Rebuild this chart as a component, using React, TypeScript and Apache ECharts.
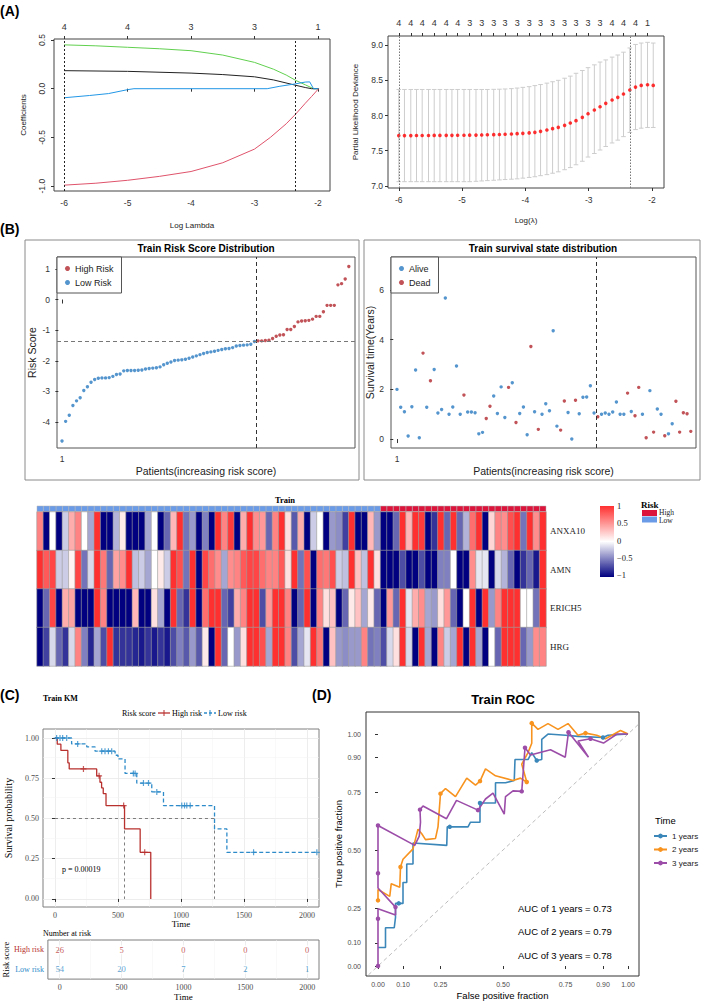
import React, { useEffect, useRef } from "react";
import * as echarts from "echarts";

const SANS = '"Liberation Sans", Arial, Helvetica, sans-serif';
const SERIF = '"Liberation Serif", "Times New Roman", Times, serif';

// ---------- (A) LASSO coefficient profiles ----------
const coefTicks = [-6, -5, -4, -3, -2];
const coefTopDf = ["4", "4", "3", "3", "1"];
const pathGreen = [[-6, 0.45], [-5.5, 0.44], [-5, 0.425], [-4.5, 0.41], [-4, 0.39], [-3.5, 0.345], [-3, 0.27], [-2.7, 0.2], [-2.5, 0.14], [-2.35, 0.085], [-2.2, 0.04], [-2.07, 0], [-1.99, 0]];
const pathBlack = [[-6, 0.185], [-5, 0.178], [-4, 0.16], [-3.5, 0.145], [-3, 0.122], [-2.7, 0.09], [-2.35, 0.035], [-2.2, 0.012], [-2.1, 0], [-1.99, 0]];
const pathBlue = [[-6, -0.093], [-5.6, -0.07], [-5.3, -0.05], [-5.0, -0.01], [-4.9, 0], [-2.8, 0], [-2.6, 0.025], [-2.35, 0.05], [-2.2, 0.068], [-2.13, 0.07], [-2.07, 0], [-1.99, 0]];
const pathRed = [[-6, -0.99], [-5.5, -0.97], [-5, -0.94], [-4.5, -0.9], [-4, -0.85], [-3.5, -0.76], [-3, -0.62], [-2.75, -0.5], [-2.5, -0.36], [-2.35, -0.26], [-2.2, -0.15], [-2.1, -0.08], [-1.99, 0]];
const lambdaMinLog = -6.0;
const lambda1seLog = -2.35;

// ---------- (A) cross-validated partial likelihood deviance ----------
const cvLogLambda = [-6.0, -5.91, -5.81, -5.72, -5.63, -5.53, -5.44, -5.35, -5.25, -5.16, -5.07, -4.97, -4.88, -4.78, -4.69, -4.6, -4.5, -4.41, -4.32, -4.22, -4.13, -4.04, -3.94, -3.85, -3.76, -3.66, -3.57, -3.48, -3.38, -3.29, -3.2, -3.1, -3.01, -2.91, -2.82, -2.73, -2.63, -2.54, -2.45, -2.35, -2.26, -2.17, -2.07, -1.98];
const cvMean = [7.715, 7.715, 7.715, 7.716, 7.716, 7.716, 7.717, 7.717, 7.718, 7.718, 7.719, 7.72, 7.721, 7.722, 7.724, 7.726, 7.728, 7.731, 7.734, 7.738, 7.742, 7.747, 7.753, 7.761, 7.775, 7.794, 7.813, 7.832, 7.86, 7.894, 7.927, 7.974, 8.026, 8.078, 8.125, 8.173, 8.22, 8.258, 8.305, 8.362, 8.404, 8.428, 8.437, 8.428];
const cvUpper = [8.37, 8.37, 8.37, 8.37, 8.37, 8.37, 8.37, 8.37, 8.37, 8.37, 8.37, 8.37, 8.37, 8.37, 8.37, 8.37, 8.372, 8.374, 8.377, 8.382, 8.39, 8.4, 8.41, 8.425, 8.44, 8.46, 8.48, 8.5, 8.53, 8.56, 8.6, 8.64, 8.68, 8.72, 8.76, 8.79, 8.83, 8.86, 8.9, 8.96, 9.01, 9.03, 9.04, 9.03];
const cvLower = [7.06, 7.06, 7.06, 7.06, 7.06, 7.06, 7.06, 7.06, 7.06, 7.06, 7.06, 7.06, 7.06, 7.065, 7.07, 7.075, 7.08, 7.085, 7.09, 7.095, 7.1, 7.11, 7.12, 7.13, 7.145, 7.16, 7.18, 7.2, 7.23, 7.26, 7.3, 7.35, 7.41, 7.46, 7.51, 7.56, 7.61, 7.65, 7.7, 7.76, 7.8, 7.82, 7.83, 7.83];
const cvTopDf = ["4", "4", "4", "4", "4", "4", "3", "3", "3", "3", "3", "3", "3", "3", "3", "3", "3", "3", "4", "4", "4", "1"];

// ---------- (B) risk score and survival state ----------
const nLow = 54;
const riskScore = [
  -4.62, -3.98, -3.78, -3.46, -3.31, -3.21, -2.97, -2.85, -2.7, -2.61, -2.57, -2.56, -2.56, -2.55, -2.51, -2.45, -2.43, -2.33,
  -2.32, -2.32, -2.32, -2.31, -2.3, -2.27, -2.25, -2.24, -2.23, -2.2, -2.13, -2.08, -2.04, -1.99, -1.98, -1.97, -1.95, -1.92,
  -1.88, -1.84, -1.8, -1.76, -1.73, -1.71, -1.69, -1.66, -1.63, -1.61, -1.6, -1.57, -1.52, -1.5, -1.49, -1.48, -1.46, -1.37,
  -1.35, -1.35, -1.34, -1.33, -1.27, -1.2, -1.16, -1.15, -0.98, -0.98, -0.88, -0.73, -0.7, -0.69, -0.68, -0.64, -0.55, -0.55,
  -0.4, -0.19, -0.19, -0.19, 0.48, 0.52, 0.67, 1.08,
];
const riskCutoff = -1.36;
const survYears = [
  2.0, 1.28, 1.1, 0.12, 1.3, 2.78, 0.05, 3.46, 1.28, 2.35, 2.8, 1.05, 1.19, 5.68, 1.0, 1.29, 2.94, 1.0, 1.77, 1.09, 1.09, 1.06,
  0.21, 0.27, 0.83, 1.32, 1.73, 1.03, 2.1, 0.87, 2.08, 2.27, 0.67, 1.03, 1.29, 0.17, 3.73, 1.1, 0.39, 1.0, 1.42, 1.14, 4.36,
  0.52, 0.36, 1.53, 1.07, 0.0, 1.56, 1.02, 1.68, 1.69, 2.15, 1.05,
  0.9, 1.0, 1.05, 1.0, 1.09, 1.49, 1.0, 1.0, 1.85, 1.11, 0.94, 2.08, 1.0, 0.05, 1.95, 0.28, 1.21, 1.0, 0.13, 0.21, 0.62, 1.52,
  0.28, 1.06, 1.02, 0.31,
];
const survStatus = [
  0, 0, 0, 0, 0, 0, 0, 1, 0, 1, 0, 0, 0, 0, 0, 0, 0, 0, 1, 0, 0, 0, 0, 0, 1, 1, 0, 0, 0, 0, 1, 0, 1, 0, 0, 0, 1, 0, 1, 0, 0, 0,
  0, 0, 1, 1, 0, 0, 1, 0, 0, 0, 0, 0,
  1, 0, 0, 0, 0, 0, 0, 0, 1, 0, 1, 1, 0, 1, 0, 1, 0, 0, 1, 0, 0, 1, 1, 1, 1, 1,
];

// ---------- expression heatmap (scaled) ----------
const genes = ["ANXA10", "AMN", "ERICH5", "HRG"];
const exprANXA10 = [
  0.6, -1, 0, -1, -0.2, 0.4, 0.6, 0, -0.35, 1, -1, -1, -0.3, 0.1, -1, -1, -1, -0.35, 0, -1, -0.6, 0.35, 1, -0.55, -0.4, -1, -0.5,
  -1, 1, 0.6, 0.95, -1, 0.4, 1, 0.55, 0.5, -0.6, 0.6, 1, 0.15, -0.65, 0.4, -1, -0.2, 0, -1, -0.4, -0.45, -0.75, 1, -1, -1, 0.35, -0.4,
  -1, -1, -0.6, 1, 0.35, 1, 0.95, -1, -0.8, 1, -0.6, 1, -0.6, -0.3, 0.7, 1, -1, 0.2, 0.6, 0.55, 0.85, 1, -0.55, 1, 0.55, 1,
];
const exprAMN = [
  1, 0.8, 0.9, -0.2, -0.2, 0.05, 0.9, -0.55, -0.15, 1, 0.65, -0.6, 0.45, 0.55, 1, -0.25, -0.2, -0.35, 0, 0.1, -0.2, 1, 0.85, -0.55, 1, -1, 0.9,
  0.7, 0.55, -0.35, 0.55, 0.6, 0.8, 0.9, 0.9, 0.7, 0.6, 0.6, 0.8, 0.15, 1, -0.55, 0.85, -1, 0.7, 0.65, 0.85, -0.2, -0.25, 1, 0.3, -0.25, 1, 0.15,
  -1, -1, -1, -0.7, -1, -1, -0.7, -1, -1, -0.5, -0.5, 0, -1, -1, 0.55, -0.1, -0.1, -1, -0.15, -0.3, -0.6, -1, -0.8, -0.6, -0.9, 1,
];
const exprERICH5 = [
  -1, -0.6, 0.9, -1, 0.4, 0.45, -1, -1, -1, 1, 0.6, -1, -1, -1, -1, 0.35, -1, -1, 0.15, -0.35, -1, 1, -0.6, -0.8, 1, -1, 0.7,
  1, 1, -0.6, -0.75, 0.4, 0.6, 1, 1, -0.7, 0.5, 1, 1, 0.6, -1, -0.6, 1, -1, 0.6, 0.15, 0.3, -1, -0.6, 0.1, 0.3, -0.35, 0.1, -0.6,
  -1, 0.5, -0.6, 1, -0.1, 0.4, 0.55, -0.35, -0.4, 0.15, 0.5, -0.6, -1, 0, 1, -1, 1, -0.4, 0.6, 1, 1, 1, 0, 0, -0.55, 1,
];
const exprHRG = [
  -1, -0.75, -0.15, -0.6, -0.8, -0.15, 0.6, -0.5, -0.85, -0.35, -0.7, 1, -0.8, -0.8, -0.8, -0.85, -0.9, -0.8, -0.9, -0.8, -0.9, -0.7, -0.5, -0.65, -0.4, -0.65, 0.1,
  -1, 1, -0.6, 0, -0.4, 0.15, 1, 1, 0.85, -0.35, 1, 1, 0.6, -0.7, -0.35, -0.1, 1, 0.65, -1, 0.3, -0.4, -0.45, -0.4, -0.4, 0.6, -0.55, -0.5,
  -0.7, -0.15, 0.15, 1, -0.15, -1, 1, -0.35, -1, 0.6, -0.2, -0.35, 1, -1, 1, -0.35, -1, 0, -0.6, 1, 1, 1, -0.6, -0.4, 0.55, 0.6,
];
const exprRows = [exprANXA10, exprAMN, exprERICH5, exprHRG];
const legendBreaks = ["1", "0.5", "0", "\u22120.5", "\u22121"];

// ---------- (C) Kaplan–Meier ----------
const kmHigh = [[0, 1], [18, 0.962], [47, 0.923], [102, 0.846], [113, 0.808], [331, 0.765], [357, 0.725], [370, 0.69], [383, 0.655], [405, 0.58], [552, 0.435], [676, 0.29], [760, 0]];
const kmHighCensor = [[226, 0.808], [350, 0.765], [545, 0.58], [712, 0.29]];
const kmLow = [[0, 1], [132, 0.963], [252, 0.945], [318, 0.918], [477, 0.893], [500, 0.87], [556, 0.78], [649, 0.72], [768, 0.665], [861, 0.58], [1266, 0.435], [1364, 0.29], [2078, 0.29]];
const kmLowCensor = [[13, 1], [40, 1], [61, 1], [93, 1], [180, 0.963], [371, 0.918], [397, 0.918], [424, 0.918], [450, 0.918], [622, 0.78], [636, 0.78], [702, 0.72], [742, 0.72], [808, 0.665], [1006, 0.58], [1028, 0.58], [1046, 0.58], [1073, 0.58], [1576, 0.29], [2078, 0.29]];
const medianHigh = 552;
const medianLow = 1266;
const kmTicks = [0, 500, 1000, 1500, 2000];
const kmGridX = [0, 250, 500, 750, 1000, 1250, 1500, 1750, 2000];
const kmGridY = [0, 0.125, 0.25, 0.375, 0.5, 0.625, 0.75, 0.875, 1];
const kmYTicks = [0, 0.25, 0.5, 0.75, 1];
const strata = ["Low risk", "High risk"];
const riskTimes = [0, 500, 1000, 1500, 2000];
const highAtRisk = [26, 5, 0, 0, 0];
const lowAtRisk = [54, 20, 7, 2, 1];
const pValue = "p = 0.00019";

// ---------- (D) time-dependent ROC ----------
// [fpr, tpr, point marker]
const roc1 = [[0, 0.08, 0], [0.03, 0.08, 0], [0.03, 0.165, 0], [0.065, 0.165, 0], [0.07, 0.21, 0], [0.07, 0.27, 0], [0.083, 0.27, 1], [0.1, 0.27, 0], [0.1, 0.36, 0], [0.115, 0.36, 0], [0.115, 0.44, 0], [0.14, 0.44, 0], [0.14, 0.53, 0], [0.275, 0.52, 0], [0.277, 0.6, 0], [0.287, 0.6, 1], [0.36, 0.6, 0], [0.37, 0.62, 0], [0.408, 0.62, 0], [0.408, 0.703, 1], [0.47, 0.703, 0], [0.47, 0.79, 0], [0.51, 0.79, 0], [0.545, 0.8, 0], [0.548, 0.89, 0], [0.6, 0.89, 0], [0.615, 0.92, 0], [0.635, 0.886, 1], [0.655, 0.89, 0], [0.655, 0.977, 0], [0.68, 1.0, 0], [0.75, 0.995, 0], [0.8, 0.99, 0], [0.9, 0.985, 1], [0.92, 0.995, 0], [1.0, 1.0, 0]];
const roc2 = [[0, 0.283, 1], [0, 0.33, 0], [0.047, 0.3, 0], [0.053, 0.355, 0], [0.087, 0.34, 0], [0.09, 0.427, 1], [0.1, 0.46, 0], [0.14, 0.505, 0], [0.16, 0.59, 0], [0.175, 0.57, 0], [0.19, 0.545, 0], [0.23, 0.55, 0], [0.24, 0.6, 0], [0.25, 0.743, 1], [0.27, 0.765, 0], [0.31, 0.73, 0], [0.355, 0.81, 0], [0.39, 0.78, 0], [0.408, 0.797, 1], [0.43, 0.85, 0], [0.47, 0.82, 0], [0.54, 0.8, 0], [0.57, 0.81, 0], [0.595, 0.793, 1], [0.575, 0.87, 0], [0.6, 0.92, 0], [0.615, 0.96, 0], [0.615, 1.047, 1], [0.64, 1.02, 0], [0.68, 1.045, 0], [0.72, 1.02, 0], [0.76, 1.045, 0], [0.8, 0.995, 0], [0.83, 1.004, 1], [0.875, 0.995, 0], [0.91, 0.98, 0], [0.97, 1.015, 0], [1.0, 1.0, 0]];
const roc3 = [[0, 0, 1], [0, 0.204, 1], [0, 0.247, 0], [0.07, 0.22, 0], [0.07, 0.254, 1], [0, 0.336, 0], [0, 0.4, 1], [0, 0.606, 1], [0.147, 0.52, 0], [0.165, 0.56, 0], [0.17, 0.62, 0], [0.168, 0.674, 1], [0.18, 0.69, 0], [0.274, 0.635, 0], [0.314, 0.714, 0], [0.4, 0.672, 1], [0.43, 0.72, 0], [0.46, 0.745, 0], [0.505, 0.655, 0], [0.51, 0.73, 0], [0.54, 0.755, 0], [0.575, 0.753, 1], [0.588, 0.941, 1], [0.61, 0.91, 0], [0.69, 0.932, 0], [0.749, 0.9, 0], [0.762, 1.008, 1], [0.842, 0.9, 0], [0.8, 0.97, 0], [0.85, 0.98, 1], [0.902, 0.961, 0], [0.956, 1.0, 0], [1.0, 1.0, 0]];
const rocNames = ["1 years", "2 years", "3 years"];
const aucValues = ["0.73", "0.79", "0.78"];
const rocTicks = [0, 0.1, 0.25, 0.5, 0.75, 0.9, 1];

const COL = {
  coefGreen: "#61D04F", coefBlack: "#222222", coefBlue: "#2297E6", coefRed: "#DF536B",
  cvDot: "#FF0000", cvBar: "#CDCDCD",
  high: "#B2282E", low: "#2B7BC2",
  kmHigh: "#B8312F", kmLow: "#2E8BC9",
  roc: ["#3C87B9", "#F7931E", "#9B4DA8"],
  annLow: "#6A9BE6", annHigh: "#DC143C",
  heat: ["#000080", "#FFFFFF", "#FF3030"],
};

const nearestIdx = (arr: number[], v: number) => {
  let b = 0;
  for (let i = 1; i < arr.length; i++) if (Math.abs(arr[i] - v) < Math.abs(arr[b] - v)) b = i;
  return b;
};

const txt = (text: string, x: number, y: number, o: any = {}) => ({
  type: "text",
  x,
  y,
  rotation: o.rot || 0,
  silent: true,
  style: {
    text,
    fill: o.color || "#000",
    fontSize: o.size || 10,
    fontFamily: o.family || SANS,
    fontWeight: o.bold ? "bold" : "normal",
    textAlign: o.align || "left",
    align: o.align || "left",
    textVerticalAlign: "middle",
    verticalAlign: "middle",
  },
});

const plusSymbol = "path://M4,0h2v4h4v2h-4v4h-2v-4h-4v-2h4z";
const plain = (v: number) => String(v);

function valueAxis(gridIndex: number, min: number, max: number, ticks: number[], o: any = {}) {
  return {
    gridIndex,
    type: "value",
    min,
    max,
    position: o.position,
    axisLine: { show: false },
    axisTick: { show: true, length: o.tickLen ?? 3, lineStyle: { color: o.tickColor || "#333" }, customValues: ticks },
    axisLabel: {
      customValues: ticks,
      formatter: o.formatter || plain,
      fontSize: o.fontSize || 8.5,
      fontFamily: o.family || SANS,
      color: o.labelColor || "#333",
      margin: o.margin ?? 6,
      rotate: o.rotate || 0,
    },
    splitLine: { show: false },
    name: o.name,
    nameLocation: "middle",
    nameGap: o.nameGap,
    nameTextStyle: { fontSize: o.nameSize || 9, fontFamily: o.family || SANS, color: o.nameColor || "#222" },
  };
}

function buildOption() {
  const grid = [
    { left: 54, top: 39, width: 276, height: 152, show: true, borderColor: "#444", borderWidth: 1 }, // 0 coef
    { left: 388, top: 36, width: 276, height: 152, show: true, borderColor: "#444", borderWidth: 1 }, // 1 cv
    { left: 57, top: 257, width: 298, height: 191, show: true, borderColor: "#555", borderWidth: 1 }, // 2 risk
    { left: 391, top: 257, width: 305, height: 191, show: true, borderColor: "#555", borderWidth: 1 }, // 3 surv
    { left: 37, top: 506, width: 509, height: 5.5, show: false }, // 4 annotation
    { left: 37, top: 512, width: 509, height: 154, show: false }, // 5 heatmap
    { left: 43, top: 729, width: 276, height: 178, show: true, borderColor: "#7f7f7f", borderWidth: 1 }, // 6 KM
    { left: 43, top: 940, width: 276, height: 45, show: true, borderColor: "#7f7f7f", borderWidth: 1 }, // 7 table
    { left: 366, top: 712, width: 273, height: 264, show: true, borderColor: "#333", borderWidth: 1 }, // 8 ROC
  ];

  const cvTopTicks = cvLogLambda.filter((_, i) => i % 2 === 0);
  const patientIds = riskScore.map((_, i) => String(i + 1));
  const major = { color: "#e8e8e8", width: 0.8, type: "solid" };
  const minor = { color: "#f3f3f3", width: 0.5, type: "solid" };

  const xAxis: any[] = [
    valueAxis(0, -6.16, -1.81, coefTicks, { name: "Log Lambda", nameGap: 30, nameSize: 8, margin: 7 }),
    valueAxis(0, -6.16, -1.81, coefTicks, {
      position: "top", margin: 8, fontSize: 9,
      formatter: (v: number) => coefTopDf[nearestIdx(coefTicks, v)],
    }),
    valueAxis(1, -6.17, -1.81, coefTicks, { name: "Log(\u03bb)", nameGap: 28, nameSize: 8, margin: 7 }),
    valueAxis(1, -6.17, -1.81, cvTopTicks, {
      position: "top", margin: 9, fontSize: 9,
      formatter: (v: number) => cvTopDf[nearestIdx(cvTopTicks, v)],
    }),
    valueAxis(2, -0.38, 81.7, [1], { name: "Patients(increasing risk score)", nameGap: 17, nameSize: 10.5, tickLen: 4, margin: 6 }),
    valueAxis(3, -0.61, 81.4, [1], { name: "Patients(increasing risk score)", nameGap: 17, nameSize: 10.5, tickLen: 4, margin: 6 }),
    { gridIndex: 4, type: "category", data: patientIds, show: false },
    { gridIndex: 5, type: "category", data: patientIds, show: false },
    valueAxis(6, -95, 2095, kmTicks, { family: SERIF, fontSize: 8, labelColor: "#4d4d4d", margin: 4, name: "Time", nameGap: 10, nameSize: 9, nameColor: "#000" }),
    valueAxis(7, -95, 2095, kmTicks, { family: SERIF, fontSize: 8, labelColor: "#4d4d4d", margin: 4, name: "Time", nameGap: 9, nameSize: 9, nameColor: "#000" }),
    valueAxis(8, -0.048, 1.044, rocTicks, {
      fontSize: 7, labelColor: "#4d4d4d", margin: 5, formatter: (v: number) => v.toFixed(2),
      name: "False positive fraction", nameGap: 14, nameSize: 9.5, nameColor: "#000",
    }),
  ];

  const yAxis: any[] = [
    valueAxis(0, -1.05, 0.51, [-1, -0.5, 0, 0.5], { rotate: 90, margin: 8, formatter: (v: number) => v.toFixed(1), name: "Coefficients", nameGap: 27, nameSize: 8 }),
    valueAxis(1, 6.97, 9.13, [7, 7.5, 8, 8.5, 9], { margin: 5, formatter: (v: number) => v.toFixed(1), name: "Partial Likelihood Deviance", nameGap: 29, nameSize: 8 }),
    valueAxis(2, -4.85, 1.39, [-4, -3, -2, -1, 0, 1], { margin: 7, name: "Risk Score", nameGap: 20, nameSize: 10.5 }),
    valueAxis(3, -0.36, 7.33, [0, 2, 4, 6], { margin: 7, name: "Survival time(Years)", nameGap: 14, nameSize: 10.5 }),
    { gridIndex: 4, type: "category", data: ["Risk"], show: false },
    {
      gridIndex: 5, type: "category", data: genes, inverse: true, position: "right",
      axisLine: { show: false }, axisTick: { show: false },
      axisLabel: { fontSize: 9, fontFamily: SERIF, color: "#222", margin: 4 },
    },
    valueAxis(6, -0.05, 1.056, kmYTicks, {
      family: SERIF, fontSize: 8, labelColor: "#4d4d4d", margin: 4, formatter: (v: number) => v.toFixed(2),
      name: "Survival probability", nameGap: 30, nameSize: 10, nameColor: "#000",
    }),
    {
      gridIndex: 7, type: "value", min: -0.5, max: 1.5,
      axisLine: { show: false },
      axisTick: { show: true, length: 3, lineStyle: { color: "#333" }, customValues: [0, 1] },
      axisLabel: {
        customValues: [0, 1],
        formatter: (v: number) => strata[Math.round(v)],
        fontSize: 8, fontFamily: SERIF, margin: 4,
        color: (v: any) => (String(v).indexOf("High") >= 0 || Number(v) === 1 ? COL.kmHigh : COL.kmLow),
      },
      splitLine: { show: false },
      name: "Risk score", nameLocation: "middle", nameGap: 34,
      nameTextStyle: { fontSize: 8.5, fontFamily: SERIF, color: "#000" },
    },
    valueAxis(8, -0.043, 1.095, rocTicks, {
      fontSize: 7, labelColor: "#4d4d4d", margin: 5, formatter: (v: number) => v.toFixed(2),
      name: "True positive fraction", nameGap: 23, nameSize: 9.5, nameColor: "#000",
    }),
  ];

  const series: any[] = [];

  // (A) coefficient paths
  const coefPaths = [
    { name: "ERICH5", data: pathGreen, color: COL.coefGreen },
    { name: "HRG", data: pathBlack, color: COL.coefBlack },
    { name: "AMN", data: pathBlue, color: COL.coefBlue },
    { name: "ANXA10", data: pathRed, color: COL.coefRed },
  ];
  coefPaths.forEach((p, i) => {
    series.push({
      type: "line", name: p.name, xAxisIndex: 0, yAxisIndex: 0, data: p.data,
      showSymbol: false, symbol: "none", lineStyle: { color: p.color, width: 1 }, color: p.color, silent: true,
      markLine: i === 0 ? {
        silent: true, symbol: ["none", "none"], label: { show: false },
        lineStyle: { color: "#222", type: [2, 2], width: 1 },
        data: [{ xAxis: lambdaMinLog }, { xAxis: lambda1seLog }],
      } : undefined,
    });
  });

  // (A) CV error bars and mean deviance
  series.push({
    type: "custom", xAxisIndex: 2, yAxisIndex: 1, silent: true,
    data: cvLogLambda.map((x, i) => [x, cvLower[i], cvUpper[i]]),
    encode: { x: 0, y: [1, 2] },
    renderItem: (_params: any, api: any) => {
      const x = api.value(0);
      const top = api.coord([x, api.value(2)]);
      const bot = api.coord([x, api.value(1)]);
      const cap = 2.3;
      const st = { stroke: COL.cvBar, lineWidth: 1 };
      return {
        type: "group",
        children: [
          { type: "line", shape: { x1: top[0], y1: top[1], x2: bot[0], y2: bot[1] }, style: st },
          { type: "line", shape: { x1: top[0] - cap, y1: top[1], x2: top[0] + cap, y2: top[1] }, style: st },
          { type: "line", shape: { x1: bot[0] - cap, y1: bot[1], x2: bot[0] + cap, y2: bot[1] }, style: st },
        ],
      };
    },
  });
  series.push({
    type: "scatter", name: "Mean deviance", xAxisIndex: 2, yAxisIndex: 1, silent: true,
    data: cvLogLambda.map((x, i) => [x, cvMean[i]]),
    symbolSize: 3.6, itemStyle: { color: COL.cvDot },
    markLine: {
      silent: true, symbol: ["none", "none"], label: { show: false },
      lineStyle: { color: "#777", type: [1.5, 1.5], width: 1 },
      data: [{ xAxis: lambdaMinLog }, { xAxis: lambda1seLog }],
    },
  });

  // (B) risk score distribution
  series.push({
    type: "scatter", name: "High Risk", xAxisIndex: 4, yAxisIndex: 2, symbolSize: 3.4,
    itemStyle: { color: COL.high },
    data: riskScore.slice(nLow).map((v, i) => [nLow + i + 1, v]),
    markLine: {
      silent: true, symbol: ["none", "none"], label: { show: false },
      data: [
        { xAxis: nLow + 0.5, lineStyle: { color: "#333", type: [4, 3], width: 1 } },
        { yAxis: riskCutoff, lineStyle: { color: "#777", type: [4, 3], width: 1.2 } },
      ],
    },
  });
  series.push({
    type: "scatter", name: "Low Risk", xAxisIndex: 4, yAxisIndex: 2, symbolSize: 3.4,
    itemStyle: { color: COL.low },
    data: riskScore.slice(0, nLow).map((v, i) => [i + 1, v]),
  });

  // (B) survival state distribution
  const survPts = survYears.map((v, i) => ({ p: [i + 1, v], s: survStatus[i] }));
  series.push({
    type: "scatter", name: "Alive", xAxisIndex: 5, yAxisIndex: 3, symbolSize: 3.4,
    itemStyle: { color: COL.low },
    data: survPts.filter((d) => d.s === 0).map((d) => d.p),
    markLine: {
      silent: true, symbol: ["none", "none"], label: { show: false },
      lineStyle: { color: "#333", type: [4, 3], width: 1 },
      data: [{ xAxis: nLow + 0.5 }],
    },
  });
  series.push({
    type: "scatter", name: "Dead", xAxisIndex: 5, yAxisIndex: 3, symbolSize: 3.4,
    itemStyle: { color: COL.high },
    data: survPts.filter((d) => d.s === 1).map((d) => d.p),
  });

  // risk group annotation bar
  series.push({
    type: "custom", xAxisIndex: 6, yAxisIndex: 4, silent: true,
    data: riskScore.map((_, i) => [i, 0]),
    renderItem: (params: any, api: any) => {
      const c = api.coord([api.value(0), api.value(1)]);
      const s = api.size([1, 1]);
      const high = params.dataIndex >= nLow;
      return {
        type: "rect",
        shape: { x: c[0] - s[0] / 2, y: c[1] - s[1] / 2, width: s[0], height: s[1] },
        style: { fill: high ? COL.annHigh : COL.annLow, stroke: "#b4b4b4", lineWidth: 0.5 },
      };
    },
  });

  // heatmap
  const heatData: number[][] = [];
  exprRows.forEach((row, r) => row.forEach((v, c) => heatData.push([c, r, v])));
  const heatIndex = series.length;
  series.push({
    type: "heatmap", xAxisIndex: 7, yAxisIndex: 5, data: heatData, silent: true,
    itemStyle: { borderColor: "#9e9e9e", borderWidth: 0.6 },
  });

  // (C) KM background grid and median guides
  const guide = { color: "#707070", type: [3, 3], width: 0.9 };
  series.push({
    type: "line", xAxisIndex: 8, yAxisIndex: 6, data: [[-500, -1]], showSymbol: false, silent: true,
    lineStyle: { opacity: 0 }, z: 0,
    markLine: {
      silent: true, symbol: ["none", "none"], label: { show: false }, z: 0,
      data: [
        ...kmGridX.map((v, i) => ({ xAxis: v, lineStyle: i % 2 === 0 ? major : minor })),
        ...kmGridY.map((v, i) => ({ yAxis: v, lineStyle: i % 2 === 0 ? major : minor })),
        [{ coord: [0, 0.5], lineStyle: guide }, { coord: [medianLow, 0.5] }],
        [{ coord: [medianHigh, 0.5], lineStyle: guide }, { coord: [medianHigh, 0] }],
        [{ coord: [medianLow, 0.5], lineStyle: guide }, { coord: [medianLow, 0] }],
      ],
    },
  });
  series.push({
    type: "line", name: "High risk", xAxisIndex: 8, yAxisIndex: 6, step: "end", data: kmHigh, z: 3,
    symbol: "none", lineStyle: { color: COL.kmHigh, width: 1.3 }, color: COL.kmHigh, silent: true,
  });
  series.push({
    type: "line", name: "Low risk", xAxisIndex: 8, yAxisIndex: 6, step: "end", data: kmLow, z: 3,
    symbol: "none", lineStyle: { color: COL.kmLow, width: 1.3, type: [4, 2.5] }, color: COL.kmLow, silent: true,
  });
  series.push({
    type: "scatter", name: "High risk censored", xAxisIndex: 8, yAxisIndex: 6, data: kmHighCensor, z: 4,
    symbol: plusSymbol, symbolSize: 6, itemStyle: { color: COL.kmHigh }, silent: true,
  });
  series.push({
    type: "scatter", name: "Low risk censored", xAxisIndex: 8, yAxisIndex: 6, data: kmLowCensor, z: 4,
    symbol: plusSymbol, symbolSize: 6, itemStyle: { color: COL.kmLow }, silent: true,
  });

  // risk table: background grid and counts
  series.push({
    type: "line", xAxisIndex: 9, yAxisIndex: 7, data: [[-500, -5]], showSymbol: false, silent: true,
    lineStyle: { opacity: 0 }, z: 0,
    markLine: {
      silent: true, symbol: ["none", "none"], label: { show: false }, z: 0,
      data: kmGridX.map((v, i) => [
        { coord: [v, -0.5], lineStyle: i % 2 === 0 ? major : minor },
        { coord: [v, 1.5] },
      ]),
    },
  });
  [
    { row: strata.indexOf("High risk"), counts: highAtRisk, color: COL.kmHigh },
    { row: strata.indexOf("Low risk"), counts: lowAtRisk, color: COL.kmLow },
  ].forEach((r) => {
    series.push({
      type: "scatter", xAxisIndex: 9, yAxisIndex: 7, symbol: "circle", symbolSize: 2, silent: true, z: 10,
      itemStyle: { color: "rgba(0,0,0,0)" },
      data: riskTimes.map((t, i) => [t, r.row, r.counts[i]]),
      label: {
        show: true, position: "inside", formatter: (p: any) => String(p.value[2]),
        color: r.color, fontSize: 8.5, fontFamily: SERIF, backgroundColor: "#fff", padding: [0, 1],
      },
      labelLayout: { hideOverlap: false },
    });
  });

  // (D) ROC
  series.push({
    type: "line", xAxisIndex: 10, yAxisIndex: 8, data: [[-0.1, -0.1], [1.2, 1.2]], showSymbol: false,
    silent: true, lineStyle: { color: "#bdbdbd", type: [4, 3], width: 1 },
  });
  [roc1, roc2, roc3].forEach((pts, k) => {
    const color = COL.roc[k];
    series.push({
      type: "line", name: rocNames[k], xAxisIndex: 10, yAxisIndex: 8, color,
      data: pts.map((p) => (p[2] ? { value: [p[0], p[1]] } : { value: [p[0], p[1]], symbol: "none" })),
      symbol: "circle", symbolSize: 4.5, showSymbol: true,
      lineStyle: { width: 1.6, color }, itemStyle: { color }, silent: true,
    });
  });

  const legendCommon = {
    orient: "vertical", icon: "circle", itemWidth: 5, itemHeight: 5, itemGap: 5,
    borderColor: "#555", borderWidth: 1, borderRadius: 0, backgroundColor: "#fff",
    textStyle: { fontSize: 9, fontFamily: SANS, color: "#222" },
    selectedMode: false,
  };
  const legend = [
    { ...legendCommon, left: 57, top: 257, padding: [7, 8, 6, 8], data: ["High Risk", "Low Risk"] },
    { ...legendCommon, left: 391, top: 257, padding: [7, 8, 6, 8], data: ["Alive", "Dead"] },
    {
      orient: "vertical", left: 653, top: 832, itemWidth: 13, itemHeight: 6, itemGap: 5.5, padding: 0,
      textStyle: { fontSize: 8, fontFamily: SANS, color: "#222" }, selectedMode: false,
      data: rocNames,
    },
  ];

  // free text, legends drawn by hand and frames
  const g: any[] = [
    txt("(A)", 0, 11, { bold: true, size: 14 }),
    txt("(B)", 0, 229, { bold: true, size: 14 }),
    txt("(C)", 0, 695, { bold: true, size: 14 }),
    txt("(D)", 312, 695, { bold: true, size: 14 }),
    { type: "rect", shape: { x: 25, y: 240, width: 334, height: 240 }, style: { fill: "none", stroke: "#8a8a8a", lineWidth: 1 }, silent: true },
    { type: "rect", shape: { x: 364, y: 240, width: 336, height: 240 }, style: { fill: "none", stroke: "#8a8a8a", lineWidth: 1 }, silent: true },
    txt("Train Risk Score Distribution", 206, 248, { bold: true, size: 10, align: "center" }),
    txt("Train survival state distribution", 543, 248, { bold: true, size: 10, align: "center" }),
    // heatmap title and legends
    txt("Train", 285, 500, { bold: true, size: 8.5, family: SERIF, align: "center" }),
    {
      type: "rect", shape: { x: 600, y: 506, width: 14, height: 71 }, silent: true,
      style: {
        fill: new echarts.graphic.LinearGradient(0, 0, 0, 1, [
          { offset: 0, color: COL.heat[2] },
          { offset: 0.5, color: COL.heat[1] },
          { offset: 1, color: COL.heat[0] },
        ]),
      },
    },
    ...legendBreaks.map((s, i) => txt(s, 617, 506 + i * 17.3, { size: 8.5, family: SERIF, color: "#222" })),
    txt("Risk", 641, 505, { bold: true, size: 9, family: SERIF }),
    { type: "rect", shape: { x: 642, y: 510, width: 15, height: 6 }, style: { fill: COL.annHigh }, silent: true },
    { type: "rect", shape: { x: 642, y: 516.5, width: 15, height: 6 }, style: { fill: COL.annLow }, silent: true },
    txt("High", 659, 512, { size: 7.5, family: SERIF, color: "#222" }),
    txt("Low", 659, 520, { size: 7.5, family: SERIF, color: "#222" }),
    // KM
    txt("Train KM", 43, 698, { bold: true, size: 8, family: SERIF }),
    txt("Risk score", 122, 713, { size: 8, family: SERIF }),
    { type: "line", shape: { x1: 158, y1: 713, x2: 170, y2: 713 }, style: { stroke: COL.kmHigh, lineWidth: 1.3 }, silent: true },
    { type: "line", shape: { x1: 164, y1: 710, x2: 164, y2: 716 }, style: { stroke: COL.kmHigh, lineWidth: 1 }, silent: true },
    txt("High risk", 172, 713, { size: 8, family: SERIF }),
    { type: "line", shape: { x1: 204, y1: 713, x2: 216, y2: 713 }, style: { stroke: COL.kmLow, lineWidth: 1.3, lineDash: [3, 2] }, silent: true },
    { type: "line", shape: { x1: 210, y1: 710, x2: 210, y2: 716 }, style: { stroke: COL.kmLow, lineWidth: 1 }, silent: true },
    txt("Low risk", 218, 713, { size: 8, family: SERIF }),
    txt(pValue, 62, 869, { size: 8, family: SERIF }),
    txt("Number at risk", 43, 933, { size: 8, family: SERIF }),
    // ROC
    txt("Train ROC", 503, 699, { bold: true, size: 13, align: "center" }),
    txt("Time", 655, 820, { size: 9.5 }),
    ...aucValues.map((a, k) => txt(`AUC of ${rocNames[k]} = ${a}`, 518, 908 + k * 23.5, { size: 9.5 })),
  ];

  return {
    animation: false,
    backgroundColor: "#ffffff",
    grid,
    xAxis,
    yAxis,
    legend,
    visualMap: [{
      type: "continuous", show: false, min: -1, max: 1, seriesIndex: heatIndex, dimension: 2,
      inRange: { color: COL.heat },
    }],
    series,
    graphic: { elements: g },
  };
}

export default function App() {
  const ref = useRef<HTMLDivElement>(null);
  useEffect(() => {
    if (!ref.current) return;
    const chart = echarts.init(ref.current, null, { renderer: "svg" });
    chart.setOption(buildOption() as any);
    return () => chart.dispose();
  }, []);
  return (
    <div
      ref={ref}
      style={{ position: "absolute", left: 0, top: 0, width: 701, height: 1002, background: "#fff" }}
    />
  );
}
